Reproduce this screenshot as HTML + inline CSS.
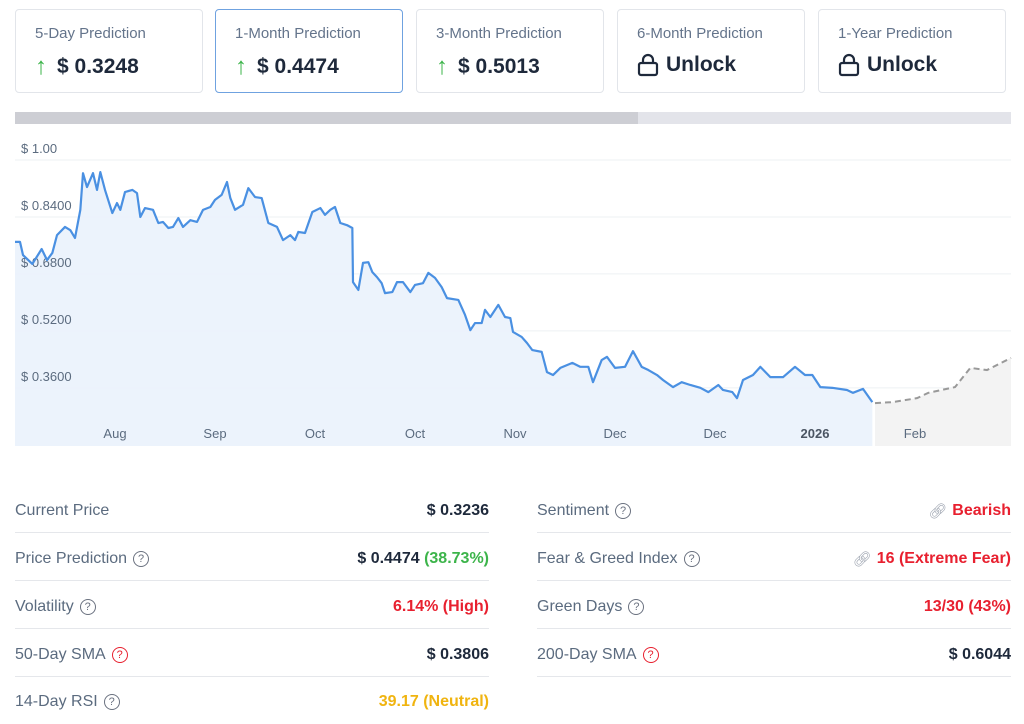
<!DOCTYPE html>
<html><head><meta charset="utf-8"><style>
*{box-sizing:border-box;margin:0;padding:0}
body{width:1024px;height:721px;background:#fff;font-family:"Liberation Sans",sans-serif;position:relative;overflow:hidden;color:#1e293b}
.card{position:absolute;top:9px;width:188px;height:84px;border:1px solid #e2e5ea;border-radius:4px}
.card.sel{border-color:#6fa2e0}
.card .t{position:absolute;left:19px;top:15px;font-size:15px;color:#64748b}
.card .v{position:absolute;left:19px;top:43px;font-size:21px;font-weight:bold;color:#1e293b;display:flex;align-items:center}
.arr{color:#3cb44a;font-weight:bold;margin-right:10px;font-size:24px}
.row{position:absolute;height:48px;border-bottom:1px solid #e5e7eb;display:flex;align-items:center;justify-content:space-between;font-size:16px;padding-top:4px}
.row.last{border-bottom:none}
.row .l{color:#5b6b7f;display:flex;align-items:center}
.row .r{font-weight:bold;display:flex;align-items:center}
.q{display:inline-block;width:16px;height:16px;border:1.3px solid #6b7280;border-radius:50%;font-size:11px;line-height:14px;text-align:center;color:#6b7280;margin-left:6px;font-weight:normal}
.q.red{border-color:#e8202f;color:#e8202f}
.red{color:#e8202f}.green{color:#3cb44a}.yel{color:#f0b410}
.link{color:#9ca3af;font-weight:normal;margin-right:5px;font-size:15px}
</style></head><body>
<div class="card" style="left:15px"><div class="t">5-Day Prediction</div><div class="v"><span class="arr">↑</span>$ 0.3248</div></div>
<div class="card sel" style="left:215px"><div class="t">1-Month Prediction</div><div class="v"><span class="arr">↑</span>$ 0.4474</div></div>
<div class="card" style="left:416px"><div class="t">3-Month Prediction</div><div class="v"><span class="arr">↑</span>$ 0.5013</div></div>
<div class="card" style="left:617px"><div class="t">6-Month Prediction</div><div class="v"><svg width="22" height="24" viewBox="0 0 22 24" style="margin-right:7px"><rect x="2" y="10" width="18" height="12" rx="2" fill="none" stroke="#1e293b" stroke-width="2.2"/><path d="M6 10V7a5 5 0 0 1 10 0v3" fill="none" stroke="#1e293b" stroke-width="2.2"/></svg>Unlock</div></div>
<div class="card" style="left:818px"><div class="t">1-Year Prediction</div><div class="v"><svg width="22" height="24" viewBox="0 0 22 24" style="margin-right:7px"><rect x="2" y="10" width="18" height="12" rx="2" fill="none" stroke="#1e293b" stroke-width="2.2"/><path d="M6 10V7a5 5 0 0 1 10 0v3" fill="none" stroke="#1e293b" stroke-width="2.2"/></svg>Unlock</div></div>

<svg id="chart" width="1024" height="460" style="position:absolute;left:0;top:0"></svg>

<div class="row" style="left:15px;top:485px;width:474px"><span class="l">Current Price</span><span class="r">$ 0.3236</span></div>
<div class="row" style="left:15px;top:533px;width:474px"><span class="l">Price Prediction<span class="q">?</span></span><span class="r">$ 0.4474&nbsp;<span class="green">(38.73%)</span></span></div>
<div class="row" style="left:15px;top:581px;width:474px"><span class="l">Volatility<span class="q">?</span></span><span class="r red">6.14% (High)</span></div>
<div class="row" style="left:15px;top:629px;width:474px"><span class="l">50-Day SMA<span class="q red">?</span></span><span class="r">$ 0.3806</span></div>
<div class="row last" style="left:15px;top:676px;width:474px"><span class="l">14-Day RSI<span class="q">?</span></span><span class="r yel">39.17 (Neutral)</span></div>

<div class="row" style="left:537px;top:485px;width:474px"><span class="l">Sentiment<span class="q">?</span></span><span class="r red"><span class="link">🔗︎</span>Bearish</span></div>
<div class="row" style="left:537px;top:533px;width:474px"><span class="l">Fear &amp; Greed Index<span class="q">?</span></span><span class="r red"><span class="link">🔗︎</span>16 (Extreme Fear)</span></div>
<div class="row" style="left:537px;top:581px;width:474px"><span class="l">Green Days<span class="q">?</span></span><span class="r red">13/30 (43%)</span></div>
<div class="row" style="left:537px;top:629px;width:474px"><span class="l">200-Day SMA<span class="q red">?</span></span><span class="r">$ 0.6044</span></div>

<script>
const days=[0,0.75,1.2,2.6,4,4.8,5.6,6.3,7.5,8.3,9,9.8,10.2,10.8,11.7,12.3,12.8,13.5,14.6,15.3,15.8,16.5,17.6,18.3,18.8,19.5,20.7,21.5,22.2,23,23.7,24.5,25.2,26.3,27.3,28.2,29.3,30,31,31.8,32.3,33,34.2,35,36,37,38,39.3,40.2,41.3,42,42.5,43.5,44.6,45.8,46.5,47.3,48,48.8,49.8,50.6,50.7,51.5,52.2,53,53.6,54.3,55,55.5,56.6,57.3,58.2,59.3,60,61.2,62,63,64,64.8,66.5,67.5,68.3,69,70,70.5,71.3,72.5,73.5,74.3,74.7,76,76.8,77.6,79,79.8,80.7,81.8,83.6,84.8,86,86.7,88,88.8,90,91.5,92.7,94,95,96.3,97.2,98.7,100,101.3,102.8,104,105.5,106.2,107.6,108.3,109.2,110.7,111.8,113.3,115.2,117,118.5,119.6,120.8,122.6,124.8,125.7,127.2,128.6];
const prices=[.770,.770,.733,.708,.750,.719,.739,.789,.812,.803,.781,.860,.963,.924,.963,.916,.966,.916,.851,.879,.860,.910,.916,.907,.840,.865,.860,.823,.826,.809,.812,.837,.812,.831,.826,.860,.868,.888,.902,.938,.893,.860,.874,.921,.896,.893,.823,.812,.775,.789,.775,.798,.795,.854,.865,.846,.860,.868,.823,.817,.809,.657,.635,.711,.713,.685,.671,.654,.626,.629,.657,.657,.629,.649,.654,.683,.669,.643,.612,.607,.565,.522,.542,.542,.579,.559,.593,.559,.556,.517,.503,.486,.466,.461,.404,.396,.416,.430,.419,.419,.376,.438,.447,.416,.419,.463,.419,.410,.396,.382,.362,.376,.368,.360,.348,.368,.354,.348,.331,.382,.396,.419,.390,.390,.419,.396,.396,.362,.360,.354,.346,.357,.320];
const fcDays=[129,131.7,135.3,137,141,143.3,145.8,149.4];
const fcPrices=[.317,.320,.331,.346,.362,.416,.410,.444];
const yTicks=[1.00,0.84,0.68,0.52,0.36];
const yTickLabels=["$ 1.00","$ 0.8400","$ 0.6800","$ 0.5200","$ 0.3600"];
const xTicks=[15,30,45,60,75,90,105,120,135];
const xTickLabels=["Aug","Sep","Oct","Oct","Nov","Dec","Dec","2026","Feb"];

const L=15,R=1011,T=125,B=446;
const X=d=>L+d/149.4*(R-L);
const Y=v=>160+(1-v)*356;
const svg=document.getElementById('chart');
const NS='http://www.w3.org/2000/svg';
function mk(tag,attrs){const e=document.createElementNS(NS,tag);for(const k in attrs)e.setAttribute(k,attrs[k]);svg.appendChild(e);return e;}

let e=mk('rect',{x:15,y:112,width:996,height:12,fill:'#e3e4ea'});

e=mk('rect',{x:15,y:112,width:623,height:12,fill:'#cdced4'});


yTicks.forEach((v,i)=>{
  const g=mk('line',{x1:L,x2:R,y1:Y(v),y2:Y(v),stroke:'#eef0f3','stroke-width':1});
  
});

let area='M'+X(days[0])+','+B;
days.forEach((d,i)=>area+='L'+X(d)+','+Y(prices[i]));
area+='L'+X(days[days.length-1])+','+B+'Z';
e=mk('path',{d:area,fill:'#eaf2fc','fill-opacity':0.9});


let farea='M'+X(fcDays[0])+','+B;
fcDays.forEach((d,i)=>farea+='L'+X(d)+','+Y(fcPrices[i]));
farea+='L'+X(fcDays[fcDays.length-1])+','+B+'Z';
e=mk('path',{d:farea,fill:'#f3f3f3'});


yTicks.forEach((v,i)=>{
  const t=mk('text',{x:21,y:Y(v)-7,'font-size':13,fill:'#5b6b7f','font-family':'Liberation Sans, sans-serif'});
  t.textContent=yTickLabels[i];
  
});

let line='';
days.forEach((d,i)=>line+=(i?'L':'M')+X(d)+','+Y(prices[i]));
e=mk('path',{d:line,fill:'none',stroke:'#4a90e2','stroke-width':2.2,'stroke-linejoin':'round'});


let fl='';
fcDays.forEach((d,i)=>fl+=(i?'L':'M')+X(d)+','+Y(fcPrices[i]));
e=mk('path',{d:fl,fill:'none',stroke:'#999','stroke-width':2,'stroke-dasharray':'6,4'});


xTicks.forEach((d,i)=>{
  const t=mk('text',{x:X(d),y:438,'font-size':13,fill:'#5b6b7f','text-anchor':'middle','font-family':'Liberation Sans, sans-serif'});
  if(xTickLabels[i]==='2026'){t.setAttribute('font-weight','bold');t.setAttribute('fill','#4b5563');}
  t.textContent=xTickLabels[i];
  
});
</script>
</body></html>
